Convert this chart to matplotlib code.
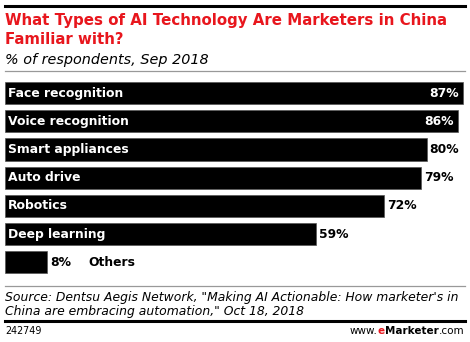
import matplotlib.pyplot as plt
import numpy as np

categories = ["Face recognition", "Voice recognition", "Smart appliances",
              "Auto drive", "Robotics", "Deep learning", "Others"]
values = [87, 86, 80, 79, 72, 59, 8]

W, H = 470, 342
fig = plt.figure(figsize=(W / 100, H / 100), dpi=100)

def fy(px):
    return 1 - px / H

def fx(px):
    return px / W

# -------------------------------------------------------------
# header
fig.add_artist(plt.Line2D([fx(5), fx(465)], [fy(5.5), fy(5.5)], color="black", lw=2.2))
fig.text(fx(5), fy(21), "What Types of AI Technology Are Marketers in China",
         color="#e8161d", fontsize=10.8, fontweight="bold", va="center")
fig.text(fx(5), fy(40), "Familiar with?",
         color="#e8161d", fontsize=10.8, fontweight="bold", va="center")
fig.text(fx(5), fy(60), "% of respondents, Sep 2018",
         color="black", fontsize=10.4, style="italic", va="center")
fig.add_artist(plt.Line2D([fx(5), fx(465)], [fy(70.5), fy(70.5)], color="#999999", lw=0.9))

# -------------------------------------------------------------
# bars
top, bottom = 78.9, 276.6
ax = fig.add_axes([fx(5), fy(bottom), 460 / W, (bottom - top) / H])
y = np.arange(len(categories))
ax.barh(y, values, height=0.78, color="black", edgecolor="#555555", linewidth=0.5)
ax.set_xlim(0, 87.3)
ax.set_ylim(len(categories) - 0.5, -0.5)
ax.axis("off")

fs = 8.9
for i, (c, v) in enumerate(zip(categories, values)):
    if c == "Others":
        ax.text(v + 0.5, i, f"{v}%", color="black", fontsize=fs,
                fontweight="bold", va="center", ha="left")
        ax.text(15.8, i, c, color="black", fontsize=fs,
                fontweight="bold", va="center", ha="left")
        continue
    ax.text(0.6, i, c, color="white", fontsize=fs, fontweight="bold",
            va="center", ha="left")
    if v >= 85:
        ax.text(v - 0.9, i, f"{v}%", color="white", fontsize=fs,
                fontweight="bold", va="center", ha="right")
    else:
        ax.text(v + 0.5, i, f"{v}%", color="black", fontsize=fs,
                fontweight="bold", va="center", ha="left")

# -------------------------------------------------------------
# footer
fig.add_artist(plt.Line2D([fx(5), fx(465)], [fy(286), fy(286)], color="#999999", lw=0.9))
fig.text(fx(5), fy(297), "Source: Dentsu Aegis Network, \"Making AI Actionable: How marketer's in",
         fontsize=8.9, style="italic", va="center")
fig.text(fx(5), fy(311), "China are embracing automation,\" Oct 18, 2018",
         fontsize=8.9, style="italic", va="center")
fig.add_artist(plt.Line2D([fx(5), fx(465)], [fy(320.5), fy(320.5)], color="black", lw=2.2))
fig.text(fx(5), fy(331), "242749", fontsize=6.9, va="center")

t1 = fig.text(fx(464), fy(331), ".com", fontsize=7.5, va="center", ha="right")
fig.canvas.draw()
r = fig.canvas.get_renderer()
bb = t1.get_window_extent(r)
t2 = fig.text(bb.x0 / W, fy(331), "Marketer", fontsize=7.5, fontweight="bold",
              va="center", ha="right")
bb = t2.get_window_extent(r)
t3 = fig.text(bb.x0 / W, fy(331), "e", fontsize=7.5, fontweight="bold",
              color="#e8161d", va="center", ha="right")
bb = t3.get_window_extent(r)
fig.text(bb.x0 / W, fy(331), "www.", fontsize=7.5, va="center", ha="right")

fig.savefig("out.png", dpi=100)
